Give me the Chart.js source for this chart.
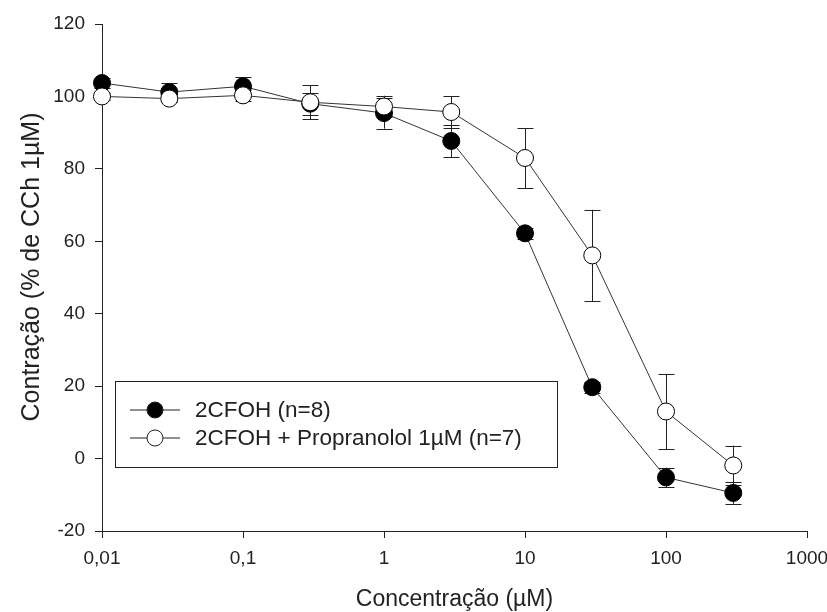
<!DOCTYPE html>
<html>
<head>
<meta charset="utf-8">
<script src="https://cdn.jsdelivr.net/npm/chart.js@4"></script>
<style>
  html, body { margin: 0; padding: 0; background: #fff; }
  #wrap { width: 827px; height: 612px; position: relative; }
</style>
</head>
<body>
<div id="wrap"><canvas id="chart" width="827" height="612"></canvas></div>
<script>
// Concentration-response curves, 2CFOH with/without propranolol.

const CONC = [0.01, 0.03, 0.1, 0.3, 1, 3, 10, 30, 100, 300];

const FILLED = [103.7, 101.2, 102.8, 98.0, 95.4, 87.7, 62.2, 19.7, -5.2, -9.5];
const FILLED_SEM = [1.5, 2.5, 2.5, 3.0, 4.3, 4.5, 1.5, 1.5, 2.7, 3.0];

const OPEN = [100.0, 99.4, 100.3, 98.4, 97.2, 95.7, 83.0, 56.1, 13.0, -1.9];
const OPEN_SEM = [1.0, 1.0, 1.5, 4.7, 3.0, 4.3, 8.3, 12.6, 10.4, 5.5];

const LABELS = ["2CFOH (n=8)", "2CFOH + Propranolol 1µM (n=7)"];
const Y_TITLE = "Contração (% de CCh 1µM)";
const X_TITLE = "Concentração (µM)";

const X_TICKS = [0.01, 0.1, 1, 10, 100, 1000];
const X_TICK_LABELS = ["0,01", "0,1", "1", "10", "100", "1000"];

const FONT = "'Liberation Sans', Arial, sans-serif";
const INK = "#222";

const errorBars = {
  id: "errorBars",
  beforeDatasetsDraw(chart) {
    const { ctx, scales: { x, y } } = chart;
    const sets = [[FILLED, FILLED_SEM], [OPEN, OPEN_SEM]];
    ctx.save();
    ctx.strokeStyle = INK;
    ctx.lineWidth = 1;
    for (const [vals, sem] of sets) {
      vals.forEach((v, i) => {
        const px = Math.round(x.getPixelForValue(CONC[i])) + 0.5;
        const top = y.getPixelForValue(v + sem[i]);
        const bot = y.getPixelForValue(v - sem[i]);
        ctx.beginPath();
        ctx.moveTo(px, top); ctx.lineTo(px, bot);
        ctx.moveTo(px - 8, Math.round(top) + 0.5); ctx.lineTo(px + 8, Math.round(top) + 0.5);
        ctx.moveTo(px - 8, Math.round(bot) + 0.5); ctx.lineTo(px + 8, Math.round(bot) + 0.5);
        ctx.stroke();
      });
    }
    ctx.restore();
  },
};

// y title sits a bit above the axis middle in the original, so draw it here
const yTitle = {
  id: "yTitle",
  afterDraw(chart) {
    const { ctx, chartArea: a } = chart;
    ctx.save();
    ctx.translate(32, a.top + 243);
    ctx.rotate(-Math.PI / 2);
    ctx.font = `25px ${FONT}`;
    ctx.fillStyle = INK;
    ctx.textAlign = "center";
    ctx.textBaseline = "middle";
    ctx.fillText(Y_TITLE, 0, 0);
    ctx.restore();
  },
};

// legend box sitting inside the plot, like the original figure
const boxLegend = {
  id: "boxLegend",
  afterDraw(chart) {
    const { ctx, chartArea: a } = chart;
    const left = a.left + 13, top = a.top + 357, w = 442, h = 86;
    ctx.save();
    ctx.strokeStyle = INK;
    ctx.lineWidth = 1;
    ctx.fillStyle = "#fff";
    ctx.fillRect(left + 0.5, top + 0.5, w, h);
    ctx.strokeRect(left + 0.5, top + 0.5, w, h);
    ctx.font = `22.5px ${FONT}`;
    ctx.textBaseline = "middle";
    chart.data.datasets.forEach((ds, i) => {
      const cy = top + 29 + i * 28;
      ctx.beginPath();
      ctx.moveTo(left + 15, cy); ctx.lineTo(left + 65, cy);
      ctx.stroke();
      ctx.beginPath();
      ctx.arc(left + 40, cy, 8, 0, Math.PI * 2);
      ctx.fillStyle = ds.pointBackgroundColor;
      ctx.fill();
      ctx.stroke();
      ctx.fillStyle = INK;
      ctx.fillText(ds.label, left + 80, cy + 1);
    });
    ctx.restore();
  },
};

new Chart(document.getElementById("chart"), {
  type: "line",
  data: {
    datasets: [
      {
        label: LABELS[0],
        data: CONC.map((c, i) => ({ x: c, y: FILLED[i] })),
        borderColor: "#333",
        borderWidth: 1,
        pointRadius: 8.5,
        pointBackgroundColor: "#000",
        pointBorderColor: "#000",
        pointBorderWidth: 1,
        clip: false,
        order: 1,
      },
      {
        label: LABELS[1],
        data: CONC.map((c, i) => ({ x: c, y: OPEN[i] })),
        borderColor: "#333",
        borderWidth: 1,
        pointRadius: 8.5,
        pointBackgroundColor: "#fff",
        pointBorderColor: "#000",
        pointBorderWidth: 1,
        clip: false,
        order: 0,
      },
    ],
  },
  options: {
    responsive: false,
    animation: false,
    layout: { padding: { left: 0, top: 24, right: 0, bottom: 0 } },
    plugins: { legend: { display: false }, tooltip: { enabled: false } },
    scales: {
      x: {
        type: "logarithmic",
        min: 0.01,
        max: 1000,
        afterBuildTicks: (s) => { s.ticks = X_TICKS.map((v) => ({ value: v })); },
        afterFit: (s) => { s.height = 81; s.paddingRight = 20; s.paddingLeft = 0; },
        ticks: {
          color: INK,
          font: { family: FONT, size: 19 },
          padding: 9,
          maxRotation: 0,
          autoSkip: false,
          callback: (v) => X_TICK_LABELS[X_TICKS.indexOf(v)] ?? "",
        },
        grid: { drawOnChartArea: false, tickLength: 7, color: INK },
        border: { display: true, color: INK },
        title: {
          display: true,
          text: X_TITLE,
          color: INK,
          font: { family: FONT, size: 23, lineHeight: 1 },
          padding: { top: 0, bottom: 1 },
        },
      },
      y: {
        min: -20,
        max: 120,
        afterFit: (s) => { s.width = 102; },
        ticks: {
          stepSize: 20,
          color: INK,
          font: { family: FONT, size: 19 },
          padding: 10,
        },
        grid: { drawOnChartArea: false, tickLength: 7, color: INK },
        border: { display: true, color: INK },
      },
    },
  },
  plugins: [errorBars, boxLegend, yTitle],
});
</script>
</body>
</html>
